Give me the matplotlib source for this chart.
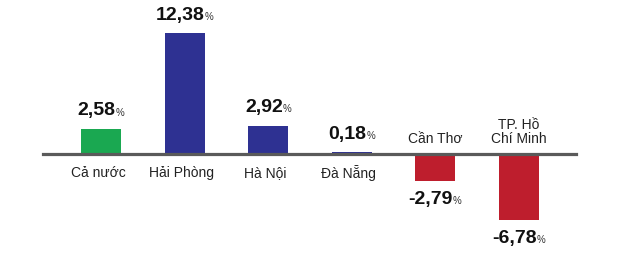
import matplotlib
matplotlib.use('Agg')
from matplotlib import pyplot as plt

# Data
categories = ['Cả nước', 'Hải Phòng', 'Hà Nội', 'Đà Nẵng', 'Cần Thơ', 'TP. Hồ\nChí Minh']
values = [2.58, 12.38, 2.92, 0.18, -2.79, -6.78]
value_labels = ['2,58', '12,38', '2,92', '0,18', '-2,79', '-6,78']
colors = ['#1aa851', '#2e3192', '#2e3192', '#2e3192', '#be1e2d', '#be1e2d']

plt.rcParams['font.family'] = ['Liberation Sans', 'DejaVu Sans']

fig = plt.figure(figsize=(6.31, 2.58), dpi=100)
ax = fig.add_axes([0, 0, 1, 1])

# pixel layout: first bar centre at x=101, spacing 83.5 px, baseline at y=154, 9.75 px per unit
step = 83.5
ax.set_xlim(-101 / step, (631 - 101) / step)
ax.set_ylim(-(258 - 154) / 9.75, 154 / 9.75)
ax.axis('off')

x = list(range(len(categories)))
ax.bar(x, values, width=40 / step, color=colors, zorder=2)
ax.axhline(0, xmin=43 / 631, xmax=576 / 631, color='#5a5a5a', lw=2.3, zorder=3)

for i, (v, lab, cat) in enumerate(zip(values, value_labels, categories)):
    sign = 1 if v >= 0 else -1
    t = ax.annotate(lab, xy=(i, v), xytext=(-3, sign * 13), textcoords='offset points',
                    ha='center', va='center', fontsize=14, fontweight='bold', color='#111111')
    ax.annotate('%', xy=(1, 0.1), xycoords=t, xytext=(0, 0), textcoords='offset points',
                ha='left', va='bottom', fontsize=7, color='#333333')
    if v >= 0:
        ax.annotate(cat, xy=(i, 0), xytext=(-2, -14), textcoords='offset points',
                    ha='center', va='center', fontsize=10, color='#222222')
    else:
        ax.annotate(cat, xy=(i, 0), xytext=(0, 6), textcoords='offset points',
                    ha='center', va='bottom', fontsize=10, color='#222222',
                    linespacing=1.0)

fig.savefig('out.png', dpi=100)
